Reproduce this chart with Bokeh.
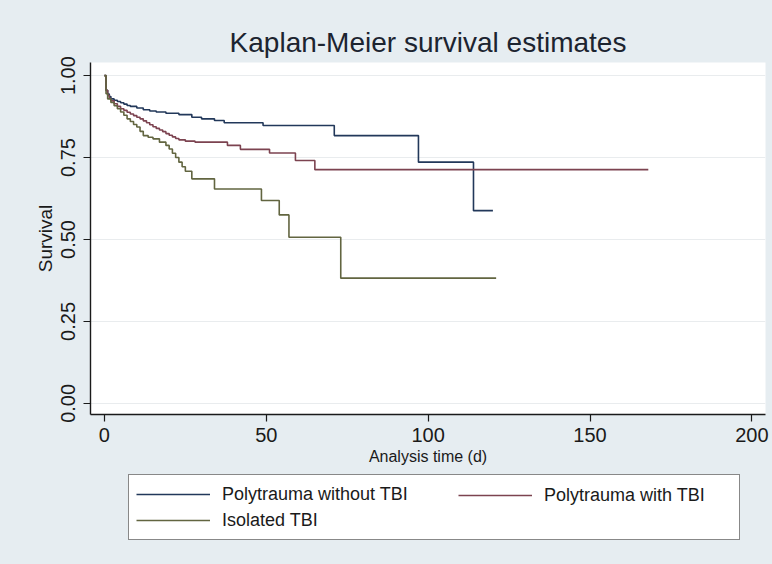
import math
from bokeh.plotting import figure
from bokeh.layouts import column
from bokeh.models import (Legend, LegendItem, FixedTicker, NumeralTickFormatter,
                          Range1d)
from bokeh.embed import file_html
from bokeh.resources import INLINE

# ---- data ----
series_names = ["Polytrauma without TBI", "Polytrauma with TBI", "Isolated TBI"]

t_blue = [0, 0.5, 1, 1.5, 2, 3, 4, 5, 6, 7, 8, 10, 12, 14, 16, 19, 23, 27, 30, 34, 37, 49, 71, 97, 114]
s_blue = [1.0, 0.955, 0.944, 0.936, 0.929, 0.925, 0.921, 0.917, 0.913, 0.909, 0.906, 0.901, 0.896,
          0.892, 0.889, 0.885, 0.881, 0.873, 0.868, 0.863, 0.856, 0.848, 0.817, 0.736, 0.588]
end_blue = 120

t_red = [0, 0.5, 1, 1.5, 2, 3, 4, 5, 6, 7, 8, 9, 10, 11, 12, 13, 14, 15, 16, 17, 18, 19, 20, 21,
         22, 23, 25, 28, 38, 42, 51, 59, 65]
s_red = [1.0, 0.955, 0.94, 0.93, 0.923, 0.914, 0.906, 0.899, 0.894, 0.888, 0.883, 0.878, 0.873,
         0.868, 0.862, 0.856, 0.850, 0.844, 0.839, 0.834, 0.829, 0.823, 0.818, 0.813, 0.808, 0.804,
         0.800, 0.797, 0.787, 0.775, 0.764, 0.741, 0.713]
end_red = 168

t_olive = [0, 0.5, 1, 2, 3, 4, 5, 6, 7, 8, 9, 10, 11, 12, 13.5, 15, 17, 19, 20, 21, 22, 23, 24,
           25, 27, 34, 48.5, 54, 57, 73]
s_olive = [1.0, 0.945, 0.929, 0.918, 0.908, 0.899, 0.889, 0.879, 0.868, 0.860, 0.851, 0.843, 0.830,
           0.817, 0.812, 0.807, 0.797, 0.787, 0.776, 0.763, 0.750, 0.736, 0.722, 0.708, 0.685, 0.654,
           0.619, 0.575, 0.507, 0.382]
end_olive = 121

x_ticks = [0, 50, 100, 150, 200]
y_ticks = [0, 0.25, 0.5, 0.75, 1.0]

colors = ["#22385a", "#7c4350", "#626540"]
BG = "#e6edf1"
FONT = "'Liberation Sans', Arial, sans-serif"

p = figure(output_backend="svg", toolbar_location=None,
           width=772, height=472,
           min_border_left=90, min_border_right=7, min_border_top=62, min_border_bottom=58,
           x_range=Range1d(-4.3, 204.2), y_range=Range1d(-0.034, 1.04),
           title="Kaplan-Meier survival estimates")
p.background_fill_color = "white"
p.border_fill_color = BG
p.outline_line_color = None

p.title.align = "center"
p.title.text_font = FONT
p.title.text_font_size = "28px"
p.title.text_font_style = "normal"
p.title.text_color = "#1c2430"
p.title.standoff = 9

renderers = []
for ts, ss, end, c in [(t_blue, s_blue, end_blue, colors[0]),
                       (t_red, s_red, end_red, colors[1]),
                       (t_olive, s_olive, end_olive, colors[2])]:
    xs = list(ts) + [end]
    ys = list(ss) + [ss[-1]]
    r = p.step(xs, ys, mode="after", line_color=c, line_width=1.6)
    renderers.append(r)

for ax in (p.xaxis[0], p.yaxis[0]):
    ax.axis_line_color = "#1a1a1a"
    ax.axis_line_width = 1.4
    ax.major_tick_line_color = "#1a1a1a"
    ax.major_tick_line_width = 1.2
    ax.major_tick_out = 7
    ax.major_tick_in = 0
    ax.minor_tick_line_color = None
    ax.major_label_text_font = FONT
    ax.major_label_text_font_size = "20px"
    ax.major_label_text_color = "#1a1a1a"
    ax.axis_label_text_font = FONT
    ax.axis_label_text_font_style = "normal"
    ax.axis_label_text_color = "#1a1a1a"

p.xaxis[0].ticker = FixedTicker(ticks=x_ticks)
p.yaxis[0].ticker = FixedTicker(ticks=y_ticks)
p.yaxis[0].formatter = NumeralTickFormatter(format="0.00")
p.yaxis[0].major_label_orientation = "vertical"
p.xaxis[0].axis_label = "Analysis time (d)"
p.yaxis[0].axis_label = "Survival"
p.xaxis[0].axis_label_text_font_size = "16px"
p.yaxis[0].axis_label_text_font_size = "19px"
p.xaxis[0].axis_label_standoff = 3
p.yaxis[0].axis_label_standoff = 3
p.xaxis[0].major_label_standoff = 6
p.yaxis[0].major_label_standoff = 8

p.xgrid.grid_line_color = None
p.ygrid.grid_line_color = "#e9ecee"
p.ygrid.grid_line_width = 1.2

# ---- legend strip below the chart ----
q = figure(output_backend="svg", toolbar_location=None, width=772, height=92,
           min_border_left=0, min_border_right=0, min_border_top=0, min_border_bottom=0,
           x_range=Range1d(0, 1), y_range=Range1d(0, 1),
           x_axis_location=None, y_axis_location=None)
q.background_fill_color = None
q.border_fill_color = None
q.outline_line_color = None
q.xgrid.grid_line_color = None
q.ygrid.grid_line_color = None
nan = float("nan")
keys = [q.line(x=[nan], y=[nan], line_color=c, line_width=1.6) for c in colors]


def style(lg):
    lg.label_text_font = FONT
    lg.label_text_font_size = "18px"
    lg.label_text_color = "#1a1a1a"
    lg.glyph_width = 74
    lg.glyph_height = 24
    lg.label_height = 24
    lg.label_standoff = 12
    lg.spacing = 2
    lg.padding = 7
    lg.margin = 0


# box with column 1 (items 1 and 3)
legend_a = Legend(items=[LegendItem(label=series_names[0], renderers=[keys[0]]),
                         LegendItem(label=series_names[2], renderers=[keys[2]])],
                  orientation="vertical", location=(38, 24))
style(legend_a)
legend_a.label_width = 510
legend_a.border_line_color = "#111111"
legend_a.border_line_width = 1.3
legend_a.background_fill_color = "white"
legend_a.background_fill_alpha = 1
q.add_layout(legend_a, "center")

# second column (item 2) drawn inside the same box
legend_b = Legend(items=[LegendItem(label=series_names[1], renderers=[keys[1]])],
                  orientation="vertical", location=(368, 57))
style(legend_b)
legend_b.border_line_color = None
legend_b.background_fill_alpha = 0
q.add_layout(legend_b, "center")

layout = column(p, q, spacing=0, styles={"background-color": BG})
open("out.html", "w").write(file_html(layout, INLINE))
